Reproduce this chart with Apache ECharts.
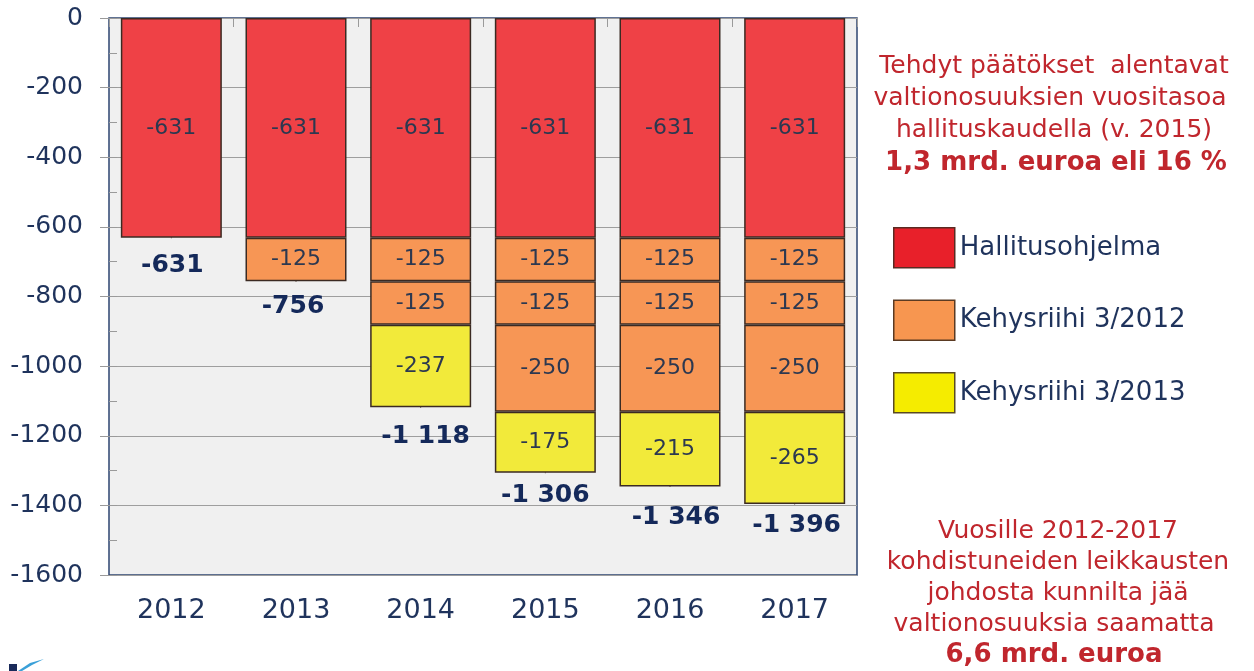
<!DOCTYPE html>
<html>
<head>
<meta charset="utf-8">
<script src="https://cdn.jsdelivr.net/npm/echarts@6/dist/echarts.min.js"></script>
<style>
html,body{margin:0;padding:0;background:#fff;}
#chart{width:1254px;height:671px;}
</style>
</head>
<body>
<div id="chart"></div>
<script>
// ---- data ----
var years = ['2012', '2013', '2014', '2015', '2016', '2017'];
var hallitusohjelma = [-631, -631, -631, -631, -631, -631];
var kehys2012a = [null, -125, -125, -125, -125, -125];
var kehys2012b = [null, null, -125, -125, -125, -125];
var kehys2012c = [null, null, null, -250, -250, -250];
var kehys2013 = [null, null, -237, -175, -215, -265];
var totals = [-631, -756, -1118, -1306, -1346, -1396];
var yTicks = [0, -200, -400, -600, -800, -1000, -1200, -1400, -1600];

// ---- styling ----
var FONT = '"DejaVu Sans", Verdana, sans-serif';
var NAVY = '#1f335c';
var RED = '#ef4146', ORANGE = '#f79655', YELLOW = '#f2ea3a';
var BORDER = '#3b2a22';
var totalShift = [[1, 28], [-3, 25], [5, 29], [0, 23], [6, 31], [2, 22]];

function fmtSpace(v) {
  var s = String(Math.abs(v));
  s = s.replace(/\B(?=(\d{3})+(?!\d))/g, ' ');
  return (v < 0 ? '-' : '') + s;
}

function barSeries(name, data, color) {
  return {
    name: name, type: 'bar', stack: 'total', data: data,
    barWidth: 101, xAxisIndex: 0, yAxisIndex: 0,
    itemStyle: { color: color, borderColor: BORDER, borderWidth: 1.5 },
    label: {
      show: true, position: 'inside', color: '#2c3850', fontSize: 22, fontFamily: FONT,
      textBorderWidth: 0,
      formatter: function (p) { return p.value == null ? '' : String(p.value); }
    },
    emphasis: { disabled: true }
  };
}

var chart = echarts.init(document.getElementById('chart'), null, { renderer: 'canvas' });
var option = {
  animation: false,
  backgroundColor: '#ffffff',
  grid: {
    left: 109, right: 397, top: 18, bottom: 96,
    show: true, backgroundColor: '#f0f0f0', borderColor: '#2d4470', borderWidth: 1.5
  },
  legend: {
    orient: 'vertical', left: 888, top: 222,
    itemWidth: 61, itemHeight: 40, itemGap: 31, icon: 'rect',
    textStyle: { fontSize: 26, color: NAVY, fontFamily: FONT },
    selectedMode: false,
    data: [
      { name: 'Hallitusohjelma', itemStyle: { color: '#e8202a', borderColor: '#5a2a22', borderWidth: 1.5 } },
      { name: 'Kehysriihi 3/2012', itemStyle: { color: '#f79650', borderColor: '#5a3a22', borderWidth: 1.5 } },
      { name: 'Kehysriihi 3/2013', itemStyle: { color: '#f5ec00', borderColor: '#5a4a22', borderWidth: 1.5 } }
    ]
  },
  xAxis: [
    {
      type: 'category', data: years, position: 'bottom',
      axisLine: { show: false }, axisTick: { show: false },
      axisLabel: { fontSize: 27, color: NAVY, fontFamily: FONT, margin: 22 }
    },
    {
      type: 'category', data: years, position: 'top',
      axisLine: { show: false },
      axisTick: { show: true, inside: true, length: 9, lineStyle: { color: '#9a9a9a' } },
      axisLabel: { show: false }
    }
  ],
  yAxis: [
    {
      type: 'value', min: -1600, max: 0, interval: 200,
      axisLine: { show: false },
      axisTick: { show: true, length: 9, lineStyle: { color: '#9a9a9a' } },
      axisLabel: {
        fontSize: 25, color: NAVY, fontFamily: FONT, margin: 26,
        formatter: function (v) { return yTicks.indexOf(v) >= 0 ? String(v) : ''; }
      },
      splitLine: { show: true, lineStyle: { color: '#9e9e9e', width: 1 } }
    },
    {
      type: 'value', min: -1600, max: 0, interval: 100, position: 'left',
      axisLine: { show: false },
      axisTick: { show: true, inside: true, length: 8, lineStyle: { color: '#9a9a9a' } },
      axisLabel: { show: false },
      splitLine: { show: false }
    }
  ],
  series: [
    barSeries('Hallitusohjelma', hallitusohjelma, RED),
    barSeries('Kehysriihi 3/2012', kehys2012a, ORANGE),
    barSeries('Kehysriihi 3/2012', kehys2012b, ORANGE),
    barSeries('Kehysriihi 3/2012', kehys2012c, ORANGE),
    barSeries('Kehysriihi 3/2013', kehys2013, YELLOW),
    {
      name: 'Yhteensä', type: 'scatter', xAxisIndex: 0, yAxisIndex: 0,
      symbolSize: 1, itemStyle: { color: BORDER, opacity: 1 }, z: 5,
      data: totals.map(function (v, i) {
        return { value: v, label: { offset: totalShift[i] } };
      }),
      label: {
        show: true, position: 'inside', color: '#14295a', fontSize: 25, fontWeight: 'bold', fontFamily: FONT,
        textBorderWidth: 0, opacity: 1,
        formatter: function (p) { return fmtSpace(p.value); }
      },
      emphasis: { disabled: true }
    }
  ],
  graphic: [
    {
      type: 'text', x: 1054, y: 50,
      style: {
        text: 'Tehdyt päätökset  alentavat\nvaltionosuuksien vuositasoa \nhallituskaudella (v. 2015)',
        textAlign: 'center', textVerticalAlign: 'top', fill: '#c0262d',
        font: '25px ' + FONT, lineHeight: 32
      }
    },
    {
      type: 'text', x: 1056, y: 147,
      style: {
        text: '1,3 mrd. euroa eli 16 %', textAlign: 'center', textVerticalAlign: 'top',
        fill: '#c0262d', font: 'bold 26px ' + FONT, lineHeight: 32
      }
    },
    {
      type: 'text', x: 1058, y: 516,
      style: {
        text: 'Vuosille 2012-2017\nkohdistuneiden leikkausten\njohdosta kunnilta jää\nvaltionosuuksia saamatta ',
        textAlign: 'center', textVerticalAlign: 'top', fill: '#c0262d',
        font: '25px ' + FONT, lineHeight: 31
      }
    },
    {
      type: 'text', x: 1054, y: 640,
      style: {
        text: '6,6 mrd. euroa', textAlign: 'center', textVerticalAlign: 'top',
        fill: '#c0262d', font: 'bold 26px ' + FONT, lineHeight: 31
      }
    },
    { type: 'rect', shape: { x: 9, y: 664, width: 8, height: 7 }, style: { fill: '#1a2a5a' } },
    { type: 'polygon', shape: { points: [[18, 671], [30, 663], [44, 659], [32, 665], [22, 671]] }, style: { fill: '#3aa0d8' } }
  ]
};
chart.setOption(option);
</script>
</body>
</html>
